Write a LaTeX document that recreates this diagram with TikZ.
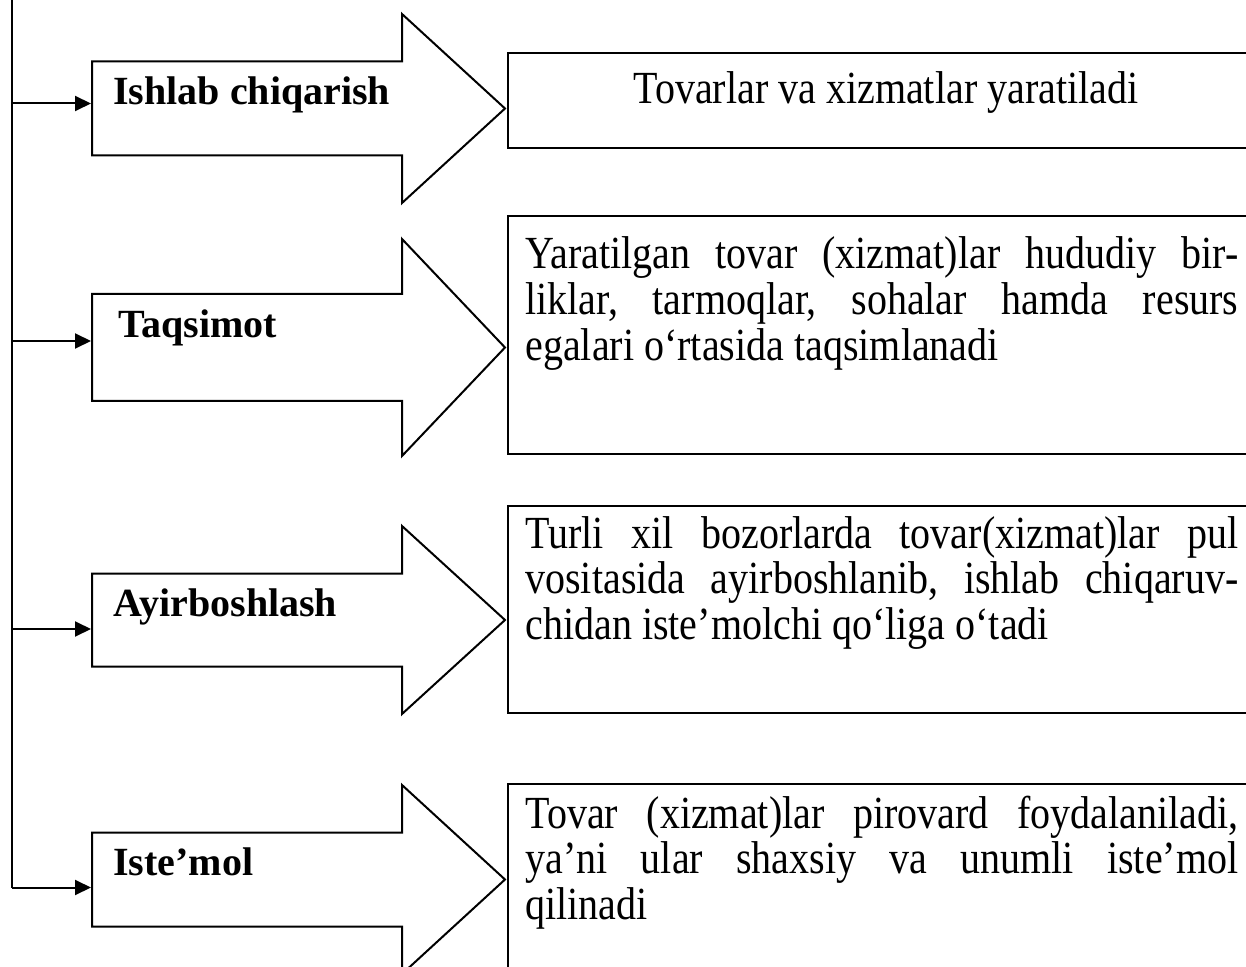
\documentclass[tikz,border=0pt]{standalone}
\usepackage{fontspec}
\setmainfont{Liberation Serif}
\newfontfamily\descfont[FakeStretch=0.87]{Liberation Serif}
\usetikzlibrary{arrows.meta}
\newcommand\jline[1]{\hbox to\linewidth{#1}}
\newcommand\descpar[1]{\parbox[t]{356.5pt}{\descfont\fontsize{23}{22.8}\selectfont #1}}
\begin{document}
\begin{tikzpicture}[x=0.5pt,y=-0.5pt,
  blockarrow/.style={draw=black, line width=1pt, line join=miter},
  infobox/.style={draw=black, line width=1.2pt},
  stagelabel/.style={font=\fontsize{20}{23}\selectfont\bfseries, anchor=base west, inner sep=0pt},
  desc/.style={font=\descfont\fontsize{23}{22.8}\selectfont, anchor=base west, inner sep=0pt},
  feed/.style={line width=1pt, -{Triangle[length=8pt,width=7.5pt]}}]

\useasboundingbox (0,0) rectangle (1246,967);

% description boxes
\draw[infobox] (508,53) rectangle (1254,148);
\draw[infobox] (508,216) rectangle (1254,454);
\draw[infobox] (508,506) rectangle (1254,713);
\draw[infobox] (508,784) rectangle (1254,985);

% block arrows
\draw[blockarrow] (92,61.5) -- (402,61.5) -- (402,14) -- (505,108.5) -- (402,203) -- (402,155.5) -- (92,155.5) -- cycle;
\draw[blockarrow] (92,294) -- (402,294) -- (402,239) -- (505,347.5) -- (402,456) -- (402,401) -- (92,401) -- cycle;
\draw[blockarrow] (92,573.5) -- (402,573.5) -- (402,526) -- (505,620) -- (402,714) -- (402,666.5) -- (92,666.5) -- cycle;
\draw[blockarrow] (92,832.5) -- (402,832.5) -- (402,785) -- (505,879.5) -- (402,974) -- (402,926.5) -- (92,926.5) -- cycle;

% stage labels
\node[stagelabel] (s1) at (113,105) {Ishlab chiqarish};
\node[stagelabel] (s2) at (118,338) {Taqsimot};
\node[stagelabel] (s3) at (113,616) {Ayirboshlash};
\node[stagelabel] (s4) at (113,875) {Iste’mol};

% descriptions
\node[desc] (d1) at (633,104) {Tovarlar va xizmatlar yaratiladi};
\node[desc] (d2) at (525,269) {\descpar{%
  \jline{Yaratilgan\hfill tovar\hfill (xizmat)lar\hfill hududiy\hfill bir-}%
  \jline{liklar,\hfill tarmoqlar,\hfill sohalar\hfill hamda\hfill resurs}%
  \hbox{egalari o‘rtasida taqsimlanadi}}};
\node[desc] (d3) at (525,548) {\descpar{%
  \jline{Turli\hfill xil\hfill bozorlarda\hfill tovar(xizmat)lar\hfill pul}%
  \jline{vositasida\hfill ayirboshlanib,\hfill ishlab\hfill chiqaruv-}%
  \hbox{chidan iste’molchi qo‘liga o‘tadi}}};
\node[desc] (d4) at (525,828) {\descpar{%
  \jline{Tovar\hfill (xizmat)lar\hfill pirovard\hfill foydalaniladi,}%
  \jline{ya’ni\hfill ular\hfill shaxsiy\hfill va\hfill unumli\hfill iste’mol}%
  \hbox{qilinadi}}};

% feed line
\coordinate (top) at (12,-5);
\coordinate (f1) at (12,103.5);
\coordinate (f2) at (12,341);
\coordinate (f3) at (12,629);
\coordinate (f4) at (12,887.5);
\coordinate (a1) at (91,103.5);
\coordinate (a2) at (91,341);
\coordinate (a3) at (91,629);
\coordinate (a4) at (91,887.5);
\draw[line width=1pt] (top) -- (f4);
\draw[feed] (f1) -- (a1);
\draw[feed] (f2) -- (a2);
\draw[feed] (f3) -- (a3);
\draw[feed] (f4) -- (a4);
\end{tikzpicture}
\end{document}
